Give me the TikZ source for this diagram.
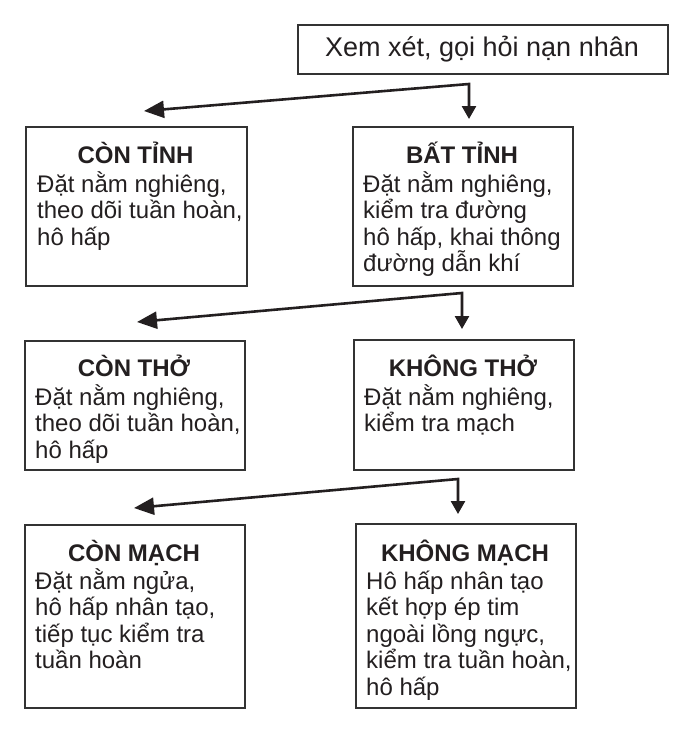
\documentclass[tikz,border=0pt]{standalone}
\usepackage{fontspec}
\setmainfont{Liberation Sans}
\usetikzlibrary{arrows.meta}
\definecolor{ink}{HTML}{231F20}
\definecolor{frame}{HTML}{333333}
\newcommand{\bodytxt}[1]{\parbox[t]{230pt}{\raggedright\fontsize{24}{26.5}\selectfont #1}}
\begin{document}
\begin{tikzpicture}[x=1pt,y=-1pt,
  box/.style 2 args={draw=frame, line width=2pt, anchor=north west, inner sep=0pt,
    minimum width=#1, minimum height=#2},
  head/.style={anchor=base, inner sep=0pt, text=ink, font=\bfseries\fontsize{24}{28}\selectfont},
  body/.style={anchor=base west, inner sep=0pt, text=ink},
  conn/.style={draw=ink, line width=2.6pt, line join=miter,
    {Triangle[length=20pt,width=17pt,fill=ink]}-{Triangle[length=13pt,width=14pt,fill=ink]}}
]
\fill[white] (0,0) rectangle (691,729);
\useasboundingbox (0,0) rectangle (691,729);

% top
\node (top) [box={370pt}{49pt}] at (297,24) {};
\node (toptxt) [anchor=center, inner sep=0pt, text=ink, font=\fontsize{27}{30}\selectfont] at (482,49) {Xem xét, gọi hỏi nạn nhân};

% row 1
\node (b1l) [box={221pt}{159pt}] at (25,126) {};
\node (b1lh) [head] at (135.5,163) {CÒN TỈNH};
\node (b1lb) [body] at (37,192) {\bodytxt{Đặt nằm nghiêng,\\theo dõi tuần hoàn,\\hô hấp}};

\node (b1r) [box={220pt}{159pt}] at (352,126) {};
\node (b1rh) [head] at (462,163) {BẤT TỈNH};
\node (b1rb) [body] at (363,192) {\bodytxt{Đặt nằm nghiêng,\\kiểm tra đường\\hô hấp, khai thông\\đường dẫn khí}};

% row 2
\node (b2l) [box={220pt}{129pt}] at (24,340) {};
\node (b2lh) [head] at (134,376) {CÒN THỞ};
\node (b2lb) [body] at (35,405) {\bodytxt{Đặt nằm nghiêng,\\theo dõi tuần hoàn,\\hô hấp}};

\node (b2r) [box={220pt}{130pt}] at (353,339) {};
\node (b2rh) [head] at (463,376) {KHÔNG THỞ};
\node (b2rb) [body] at (364,405) {\bodytxt{Đặt nằm nghiêng,\\kiểm tra mạch}};

% row 3
\node (b3l) [box={220pt}{183pt}] at (24,524) {};
\node (b3lh) [head] at (134,561) {CÒN MẠCH};
\node (b3lb) [body] at (35,589) {\bodytxt{Đặt nằm ngửa,\\hô hấp nhân tạo,\\tiếp tục kiểm tra\\tuần hoàn}};

\node (b3r) [box={220pt}{184pt}] at (355,523) {};
\node (b3rh) [head] at (465,561) {KHÔNG MẠCH};
\node (b3rb) [body] at (366,589) {\bodytxt{Hô hấp nhân tạo\\kết hợp ép tim\\ngoài lồng ngực,\\kiểm tra tuần hoàn,\\hô hấp}};

% connectors
\coordinate (s1) at (469,84);
\coordinate (t1l) at (144,111);
\coordinate (t1r) at (469,119);
\coordinate (s2) at (462,293);
\coordinate (t2l) at (137,322);
\coordinate (t2r) at (462,329);
\coordinate (s3) at (458,479);
\coordinate (t3l) at (134,508);
\coordinate (t3r) at (458,514);
\draw[conn] (t1l) -- (s1) -- (t1r);
\draw[conn] (t2l) -- (s2) -- (t2r);
\draw[conn] (t3l) -- (s3) -- (t3r);
\end{tikzpicture}
\end{document}
